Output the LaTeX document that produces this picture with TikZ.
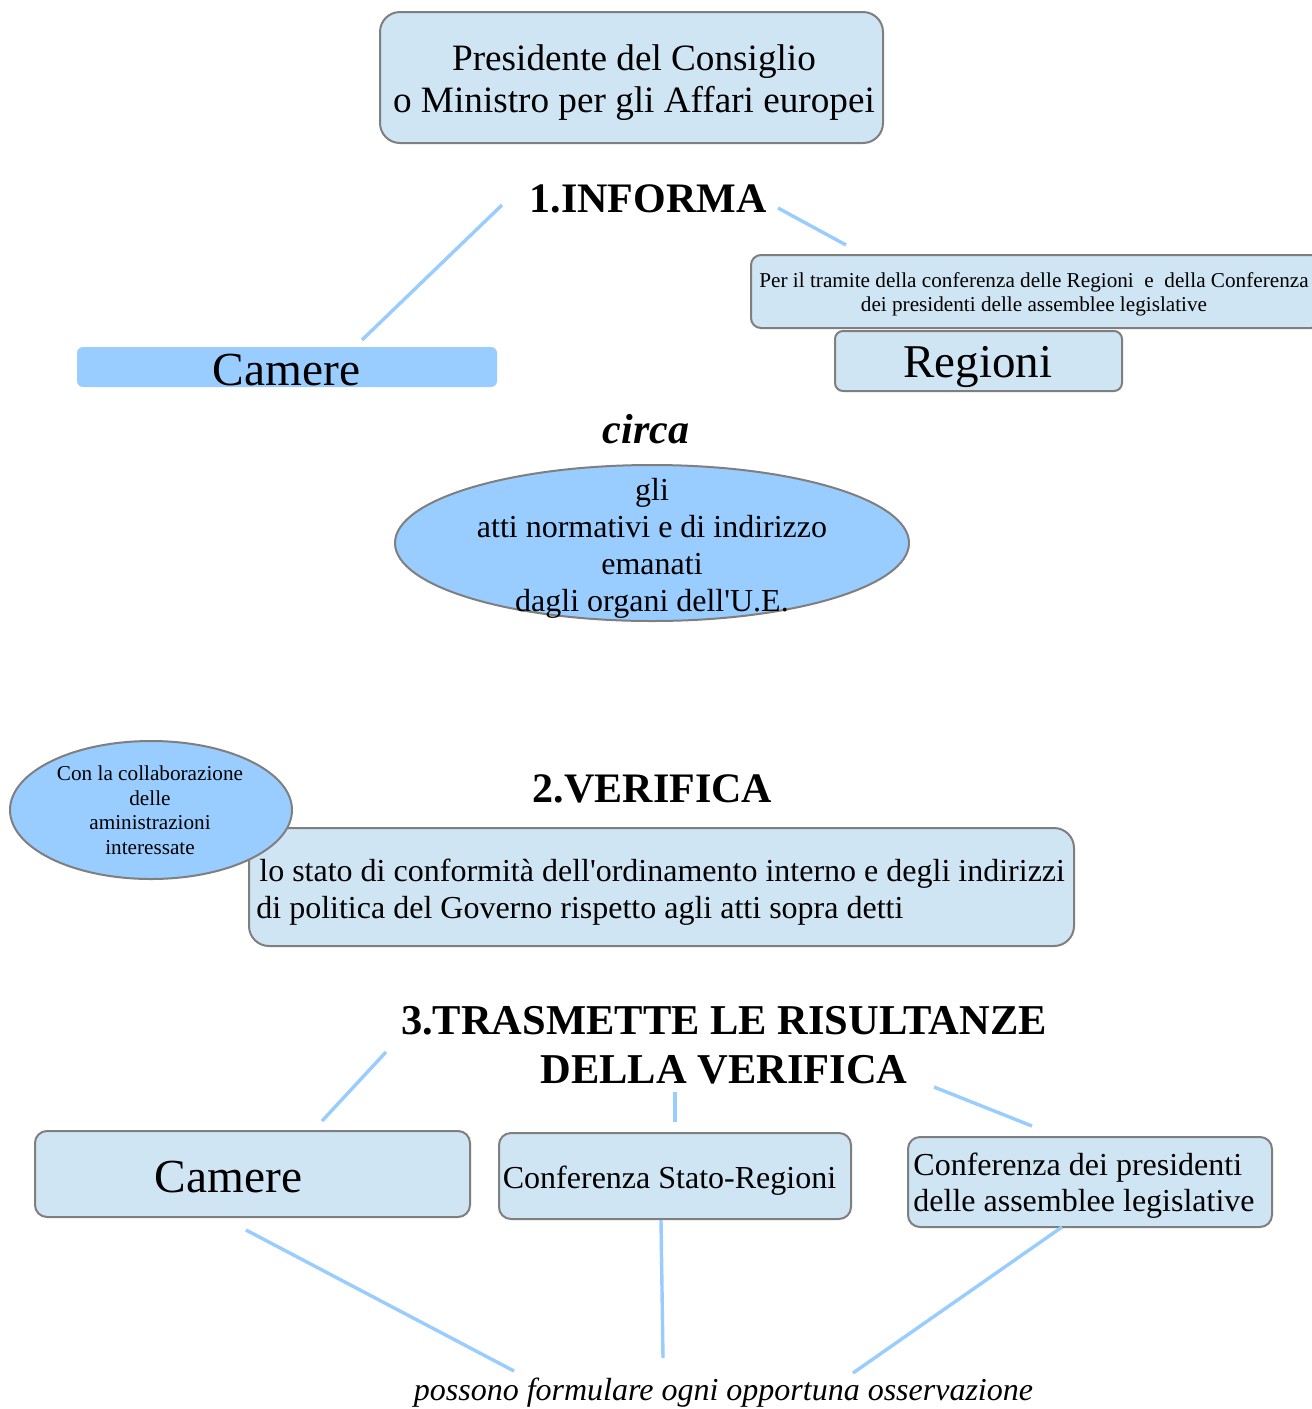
\documentclass[tikz,border=0pt]{standalone}
\usepackage{fontspec}
\setmainfont{Liberation Serif}[Ligatures=TeXOff]
\usetikzlibrary{shapes.geometric}
\definecolor{boxfill}{HTML}{CFE5F3}
\definecolor{ellfill}{HTML}{99CCFF}
\definecolor{edgecol}{HTML}{7F7F7F}
\definecolor{conncol}{HTML}{99CCFF}
\newcommand{\fsz}[2]{\fontsize{#1}{#2}\selectfont}
\begin{document}
\begin{tikzpicture}[x=0.5pt,y=-0.5pt,
  lbox/.style={draw=edgecol, fill=boxfill, line width=1pt, inner sep=0pt},
  ellbox/.style={ellipse, draw=edgecol, fill=ellfill, line width=1pt, inner sep=0pt},
  conn/.style={draw=conncol, line width=1.7pt},
  txt/.style={inner sep=0pt, anchor=base, align=center},
  ltxt/.style={inner sep=0pt, anchor=base west, align=left},
]
\clip (0,0) rectangle (1312,1409);
\fill[white] (0,0) rectangle (1312,1409);

% --- top box
\node[lbox, rounded corners=10pt, minimum width=251.5pt, minimum height=65.5pt] (presbox) at (631.5,77.5) {};
\node[txt, font=\fsz{18.6}{20.85}] (prestxt) at (634,112) {Presidente del Consiglio\\o Ministro per gli Affari europei};

% --- 1.INFORMA
\node[txt, font=\fsz{21}{24}\bfseries] (informa) at (648,212) {1.INFORMA};
\coordinate (i1a) at (502,205);
\coordinate (i1b) at (362,340);
\coordinate (i2a) at (778,208);
\coordinate (i2b) at (846,245);
\draw[conn] (i1a) -- (i1b);
\draw[conn] (i2a) -- (i2b);

% --- Per il tramite box
\node[lbox, rounded corners=5pt, minimum width=285pt, minimum height=36.5pt] (tramitebox) at (1036,291.5) {};
\node[txt, font=\fsz{10.6}{12}] (tramitetxt) at (1034,311) {Per il tramite della conferenza delle Regioni \ e \ della Conferenza\\dei presidenti delle assemblee legislative};

% --- Regioni
\node[lbox, rounded corners=4pt, minimum width=143.5pt, minimum height=30pt] (regionibox) at (978.5,361) {};
\node[txt, font=\fsz{23.5}{26}] (regionitxt) at (978,377) {Regioni};

% --- Camere (top)
\node[draw=none, fill=ellfill, rounded corners=3pt, minimum width=210pt, minimum height=20pt, inner sep=0pt] (camerebox1) at (287,367) {};
\node[txt, font=\fsz{23.7}{26}] (cameretxt1) at (286.5,385) {Camere};

% --- circa
\node[txt, font=\fsz{21}{24}\bfseries\itshape] (circa) at (646,443) {circa};

% --- big ellipse
\node[ellbox, minimum width=257pt, minimum height=78pt] (attiell) at (652,543) {};
\node[txt, font=\fsz{16}{18.5}] (attitxt) at (652,611) {gli\\atti normativi e di indirizzo\\emanati\\dagli organi dell'U.E.};

% --- 2.VERIFICA
\node[txt, font=\fsz{21}{24}\bfseries] (verifica) at (652.5,802) {2.VERIFICA};

% --- lo stato box
\node[lbox, rounded corners=10pt, minimum width=412.5pt, minimum height=59pt] (statobox) at (661.5,887) {};
\node[ltxt, font=\fsz{16}{18.5}] (statotxt) at (256,918) {\hspace{1.5pt}lo stato di conformità dell'ordinamento interno e degli indirizzi\\di politica del Governo rispetto agli atti sopra detti};

% --- small ellipse (on top of box)
\node[ellbox, minimum width=141pt, minimum height=69pt] (collabell) at (151,810) {};
\node[txt, font=\fsz{10.6}{12.25}] (collabtxt) at (150,854) {Con la collaborazione\\delle\\aministrazioni\\interessate};

% --- 3.TRASMETTE
\node[txt, font=\fsz{21.25}{24.5}\bfseries] (trasmette) at (724,1083) {3.TRASMETTE LE RISULTANZE\\DELLA VERIFICA};
\coordinate (t1a) at (386,1052);
\coordinate (t1b) at (322,1121);
\coordinate (t2a) at (675,1092);
\coordinate (t2b) at (675,1122);
\coordinate (t3a) at (934,1087);
\coordinate (t3b) at (1032,1126);
\draw[conn] (t1a) -- (t1b);
\draw[conn] (t2a) -- (t2b);
\draw[conn] (t3a) -- (t3b);

% --- bottom boxes
\node[lbox, rounded corners=6pt, minimum width=217.5pt, minimum height=43pt] (camerebox2) at (252.5,1174) {};
\node[txt, font=\fsz{23.7}{26}] (cameretxt2) at (228.5,1192) {Camere};

\node[lbox, rounded corners=6pt, minimum width=176pt, minimum height=43pt] (csrbox) at (675,1176) {};
\node[txt, font=\fsz{16}{18}] (csrtxt) at (669.5,1188) {Conferenza Stato-Regioni};

\node[lbox, rounded corners=6pt, minimum width=182pt, minimum height=45pt] (cpbox) at (1090,1182) {};
\node[ltxt, font=\fsz{16}{18}] (cptxt) at (913,1211) {Conferenza dei presidenti\\delle assemblee legislative};

% --- bottom connectors
\coordinate (b1a) at (246,1230);
\coordinate (b1b) at (514,1371);
\coordinate (b2a) at (661,1220);
\coordinate (b2b) at (663,1358);
\coordinate (b3a) at (1062,1227);
\coordinate (b3b) at (853,1373);
\draw[conn] (b1a) -- (b1b);
\draw[conn] (b2a) -- (b2b);
\draw[conn] (b3a) -- (b3b);

\node[txt, font=\fsz{16}{18}\itshape] (osserva) at (723.5,1400) {possono formulare ogni opportuna osservazione};
\end{tikzpicture}
\end{document}
